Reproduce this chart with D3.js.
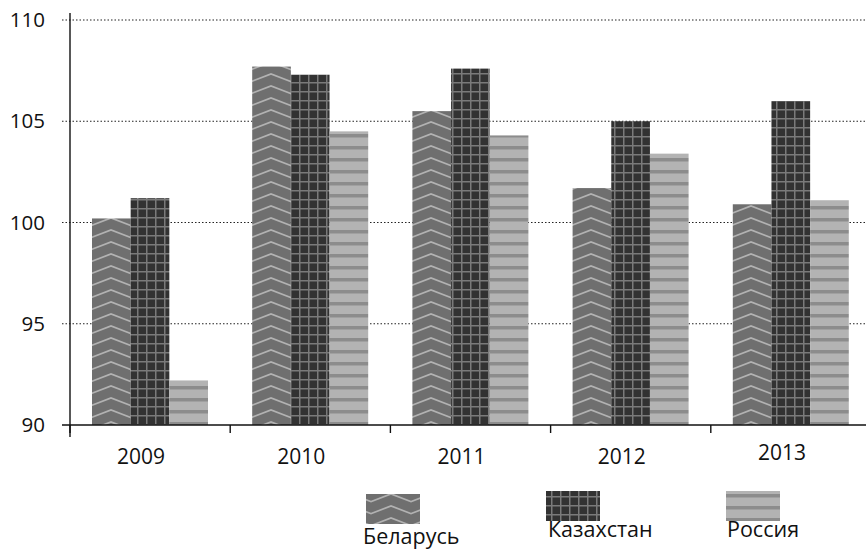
<!DOCTYPE html>
<html><head><meta charset="utf-8">
<script src="https://cdn.jsdelivr.net/npm/d3@7"></script>
<style>body{margin:0;background:#fff}svg{display:block}text{font-family:"Open Sans","Noto Sans",sans-serif;fill:#111}</style>
</head><body><svg id="c" width="866" height="549"></svg>
<script>
const years = ["2009","2010","2011","2012","2013"];
const seriesNames = ["Беларусь","Казахстан","Россия"];
const belarus = [100.2,107.7,105.5,101.7,100.9];
const kazakhstan = [101.2,107.3,107.6,105.0,106.0];
const russia = [92.2,104.5,104.3,103.4,101.1];
const yTicks = [90,95,100,105,110];

const values = [belarus,kazakhstan,russia];
const svg = d3.select("#c");
const defs = svg.append("defs");

// patterns
const p1 = defs.append("pattern").attr("id","pBel").attr("patternUnits","userSpaceOnUse")
  .attr("width",40).attr("height",12).attr("x",11).attr("y",0);
p1.append("rect").attr("width",40).attr("height",12).attr("fill","#6f6f6f");
[-12,0,12].forEach(o=>{
  p1.append("path").attr("d",`M-1,${10+o} L20,${2+o} L41,${10+o}`).attr("fill","none").attr("stroke","#b2b2b2").attr("stroke-width",1.8);
});

const p2 = defs.append("pattern").attr("id","pKaz").attr("patternUnits","userSpaceOnUse")
  .attr("width",9).attr("height",9).attr("x",2).attr("y",1);
p2.append("rect").attr("width",9).attr("height",9).attr("fill","#323232");
p2.append("rect").attr("x",0).attr("y",0).attr("width",1.5).attr("height",9).attr("fill","#7a7a7a");
p2.append("rect").attr("x",0).attr("y",0).attr("width",9).attr("height",1.5).attr("fill","#7a7a7a");

const p3 = defs.append("pattern").attr("id","pRus").attr("patternUnits","userSpaceOnUse")
  .attr("width",10).attr("height",12).attr("x",0).attr("y",2);
p3.append("rect").attr("width",10).attr("height",12).attr("fill","#b3b3b3");
p3.append("rect").attr("y",0).attr("width",10).attr("height",3).attr("fill","#8c8c8c");
p3.append("rect").attr("y",3).attr("width",10).attr("height",1).attr("fill","#a0a0a0");
const fills = ["url(#pBel)","url(#pKaz)","url(#pRus)"];

const x0 = d3.scaleBand().domain(years).range([70,871]).padding(0);
const x1 = d3.scaleBand().domain(seriesNames).range([22,138]).padding(0);
const y = d3.scaleLinear().domain([90,110]).range([425,20]);

// grid
svg.append("g").selectAll("line").data(yTicks.filter(t=>t>90)).join("line")
  .attr("x1",62).attr("x2",866).attr("y1",d=>y(d)).attr("y2",d=>y(d))
  .attr("stroke","#222").attr("stroke-width",1.2).attr("stroke-dasharray","1.5,2");

// bars
const g = svg.append("g");
years.forEach((yr,i)=>{
  seriesNames.forEach((s,j)=>{
    const v = values[j][i];
    g.append("rect").attr("x",x0(yr)+x1(s)).attr("width",x1.bandwidth())
      .attr("y",y(v)).attr("height",y(90)-y(v)).attr("fill",fills[j]);
  });
});

// y axis
const ya = svg.append("g").attr("transform","translate(70,0)")
  .call(d3.axisLeft(y).tickValues(yTicks).tickSize(0).tickPadding(25).tickFormat(d3.format("d")));
ya.select(".domain").remove();
ya.selectAll("text").attr("font-size",20.5).style("font-family","'Open Sans','Noto Sans',sans-serif").attr("fill","#111");
svg.append("line").attr("x1",70).attr("x2",70).attr("y1",13).attr("y2",437).attr("stroke","#111").attr("stroke-width",1.4);

// x axis
svg.append("line").attr("x1",62).attr("x2",866).attr("y1",425).attr("y2",425).attr("stroke","#111").attr("stroke-width",1.4);
const xa = svg.append("g").attr("transform","translate(0,425)")
  .call(d3.axisBottom(x0).tickSize(0).tickPadding(24));
xa.select(".domain").remove();
xa.selectAll("text").attr("font-size",21).style("font-family","'Open Sans','Noto Sans',sans-serif").attr("fill","#111")
  .attr("dx",-9).attr("dy",(d,i)=>i===4?"0.5em":"0.7em");
svg.append("g").selectAll("line").data(years).join("line")
  .attr("x1",d=>x0(d)).attr("x2",d=>x0(d)).attr("y1",425).attr("y2",433)
  .attr("stroke","#111").attr("stroke-width",1.4);

// legend
const legPos = [[366,494,363,544],[546,491,548,537],[726,491,727,537]];
seriesNames.forEach((s,j)=>{
  const [rx,ry,tx,ty] = legPos[j];
  svg.append("rect").attr("x",rx).attr("y",ry).attr("width",54).attr("height",30).attr("fill",fills[j]);
  svg.append("text").attr("x",tx).attr("y",ty).attr("font-size",21.5).text(s);
});
</script></body></html>
